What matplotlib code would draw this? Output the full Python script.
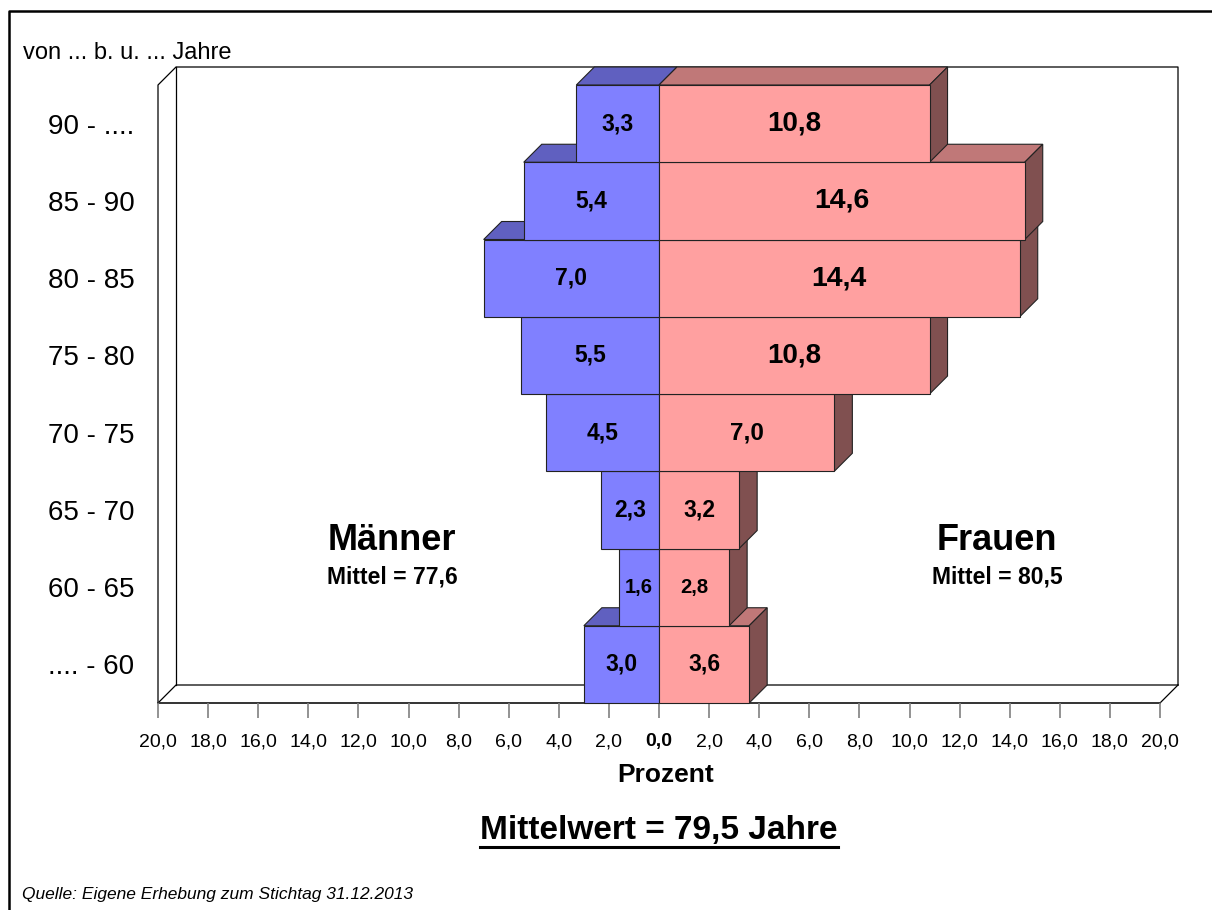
import numpy as np
import matplotlib
matplotlib.use("Agg")
import matplotlib.pyplot as plt
from matplotlib.patches import Polygon
from matplotlib.lines import Line2D

plt.rcParams['font.family'] = ['Liberation Sans', 'DejaVu Sans']

# data, bottom row first
ages = ['.... - 60', '60 - 65', '65 - 70', '70 - 75', '75 - 80', '80 - 85', '85 - 90', '90 - ....']
men = [3.0, 1.6, 2.3, 4.5, 5.5, 7.0, 5.4, 3.3]
women = [3.6, 2.8, 3.2, 7.0, 10.8, 14.4, 14.6, 10.8]
men_fs = [16.5, 14.5, 16.5, 16.5, 16.5, 16.5, 16.5, 16.5]
women_fs = [16.5, 14.5, 16.5, 17.5, 20, 20.5, 20.5, 20]
ticks = np.arange(-20, 21, 2)

W, H = 1212, 910
fig = plt.figure(figsize=(W / 100, H / 100), dpi=100)
ax = fig.add_axes([158 / W, (H - 703) / H, (1160 - 158) / W, (703 - 85) / H])
ax.set_xlim(-20, 20); ax.set_ylim(0, len(ages))
ax.patch.set_visible(False)

# 3d depth in data units (18 px up-right)
dx = 40 * 18 / 1002
dy = len(ages) * 18 / 618
n = len(ages)

# walls / floor
wall = dict(color='k', lw=0.9, clip_on=False, zorder=1)
ax.plot([-20, -20, -20 + dx, 20 + dx, 20 + dx], [0, n, n + dy, n + dy, dy], **wall)
ax.plot([-20 + dx, -20 + dx], [dy, n + dy], **wall)
ax.plot([-20, -20 + dx, 20 + dx], [0, dy, dy], **wall)
ax.plot([20, 20 + dx], [0, dy], **wall)

ec = '#222222'
for i in range(n):
    z = 2 + i * 0.1
    m, w = men[i], women[i]
    # men: top + front
    ax.add_patch(Polygon([(-m, i + 1), (0, i + 1), (dx, i + 1 + dy), (-m + dx, i + 1 + dy)],
                         fc='#6060C0', ec=ec, lw=0.8, clip_on=False, zorder=z))
    ax.add_patch(Polygon([(-m, i), (0, i), (0, i + 1), (-m, i + 1)],
                         fc='#8080FF', ec=ec, lw=0.8, clip_on=False, zorder=z + 0.01))
    # women: top + side + front
    ax.add_patch(Polygon([(0, i + 1), (w, i + 1), (w + dx, i + 1 + dy), (dx, i + 1 + dy)],
                         fc='#C07878', ec=ec, lw=0.8, clip_on=False, zorder=z))
    ax.add_patch(Polygon([(w, i), (w + dx, i + dy), (w + dx, i + 1 + dy), (w, i + 1)],
                         fc='#805050', ec=ec, lw=0.8, clip_on=False, zorder=z))
    ax.add_patch(Polygon([(0, i), (w, i), (w, i + 1), (0, i + 1)],
                         fc='#FFA0A0', ec=ec, lw=0.8, clip_on=False, zorder=z + 0.01))
    ax.text(-m / 2, i + 0.5, f"{m:.1f}".replace('.', ','), ha='center', va='center',
            fontsize=men_fs[i], fontweight='bold', zorder=10)
    ax.text(w / 2, i + 0.5, f"{w:.1f}".replace('.', ','), ha='center', va='center',
            fontsize=women_fs[i], fontweight='bold', zorder=10)

# axes
for s in ['top', 'right', 'left']:
    ax.spines[s].set_visible(False)
ax.spines['bottom'].set_color('#333333'); ax.spines['bottom'].set_linewidth(1.4)
ax.spines['bottom'].set_zorder(1.5)
ax.set_xticks(ticks)
ax.set_xticklabels([f"{abs(v):.1f}".replace('.', ',') for v in ticks])
ax.tick_params(axis='x', length=10.8, width=1.2, color='#808080', labelsize=14, pad=11)
ax.get_xticklabels()[len(ticks) // 2].set_fontweight('bold')
ax.set_yticks(np.arange(n) + 0.5)
ax.set_yticklabels(ages)
ax.tick_params(axis='y', length=0, labelsize=20, pad=17)

# group annotations
ax.text(-10.66, 2.11, 'Männer', ha='center', va='center', fontsize=26, fontweight='bold')
ax.text(-10.66, 1.63, 'Mittel = 77,6', ha='center', va='center', fontsize=16.5, fontweight='bold')
ax.text(13.5, 2.11, 'Frauen', ha='center', va='center', fontsize=26, fontweight='bold')
ax.text(13.5, 1.63, 'Mittel = 80,5', ha='center', va='center', fontsize=16.5, fontweight='bold')

fig.text(23 / W, 1 - 53 / H, 'von ... b. u. ... Jahre', ha='left', va='center', fontsize=17)
fig.text(666 / W, 1 - 775 / H, 'Prozent', ha='center', va='center', fontsize=19, fontweight='bold')
t = fig.text(659 / W, 1 - 830 / H, 'Mittelwert = 79,5 Jahre', ha='center', va='center',
             fontsize=24, fontweight='bold')
fig.text(22 / W, 1 - 895 / H, 'Quelle: Eigene Erhebung zum Stichtag 31.12.2013', ha='left',
         va='center', fontsize=12.5, style='italic')

# underline under the mean text
fig.canvas.draw()
bb = t.get_window_extent()
fig.add_artist(Line2D([bb.x0 / W, bb.x1 / W], [(bb.y0 - 1) / H] * 2, color='k', lw=2.2))

# outer frame
fig.add_artist(Line2D([9 / W, 9 / W, 1], [0, 1 - 11 / H, 1 - 11 / H], color='k', lw=1.8))

fig.savefig('out.png', dpi=100)
